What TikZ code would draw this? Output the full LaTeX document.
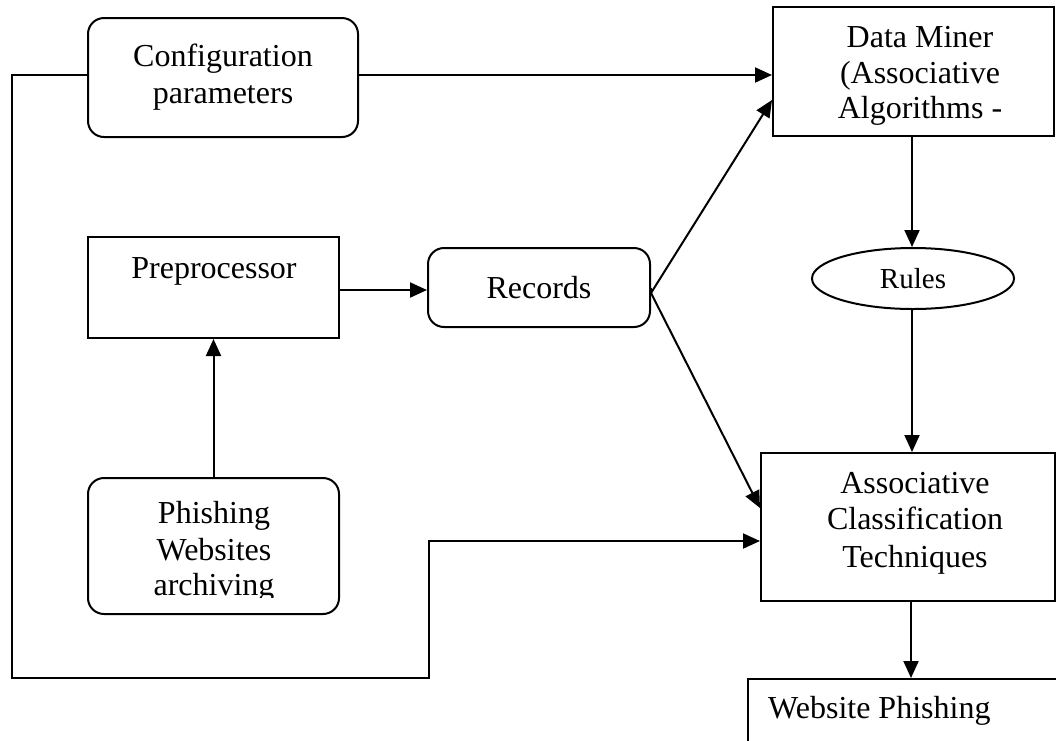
\documentclass[tikz,border=0pt]{standalone}
\usepackage{fontspec}
\setmainfont{Liberation Serif}
\usetikzlibrary{arrows.meta,shapes.geometric}
\tikzset{
  box/.style={draw,line width=2pt,inner sep=0pt,minimum width=#1},
  rbox/.style={draw,line width=2pt,inner sep=0pt,rounded corners=16pt},
  conn/.style={line width=2pt},
  arr/.style={line width=2pt,-{Triangle[length=17pt,width=15pt]}},
  txt/.style={align=center,font=\fontsize{32}{37}\selectfont,inner sep=0pt},
}
\begin{document}
\begin{tikzpicture}[x=1pt,y=-1pt]
\clip (0,0) rectangle (1056,740);
\fill[white] (0,0) rectangle (1056,740);
% boxes
\node[rbox,minimum width=270pt,minimum height=119pt,txt] (cfg) at (223,77.5) {Configuration\\parameters};
\node[box=281pt,minimum height=129pt] (dm) at (913.5,71.5) {};
\node[txt,anchor=base] at (920,47) {Data Miner};
\node[txt,anchor=base] at (920,83) {(Associative};
\node[txt,anchor=base] at (920,118) {Algorithms -};
\node[box=251pt,minimum height=101pt] (pre) at (213.5,287.5) {};
\node[txt,anchor=base] at (214,278) {Preprocessor};
\node[rbox,minimum width=222pt,minimum height=79pt,txt] (rec) at (539,287.5) {Records};
\node[draw,ellipse,line width=2pt,minimum width=202pt,minimum height=61pt,inner sep=0pt,font=\fontsize{29}{34}\selectfont] (rules) at (913,278.5) {Rules};
\node[rbox,minimum width=251pt,minimum height=136pt] (phi) at (213.5,546) {};
\begin{scope}
\clip (90,480) rectangle (337,597);
\node[txt,anchor=base] at (214,523) {Phishing};
\node[txt,anchor=base] at (214,560) {Websites};
\node[txt,anchor=base] at (214,595) {archiving};
\end{scope}
\node[box=294pt,minimum height=148pt] (ac) at (908,527) {};
\node[txt,anchor=base] at (915,493) {Associative};
\node[txt,anchor=base] at (915,529) {Classification};
\node[txt,anchor=base] at (915,567) {Techniques};
\node[box=320pt,minimum height=100pt,anchor=north west] (web) at (747,678) {};
\node[txt,anchor=base west] at (768,718) {Website Phishing};
% coordinates
\coordinate (c1) at (12,75);
\coordinate (c2) at (12,678);
\coordinate (c3) at (429,678);
\coordinate (c4) at (429,541);
\coordinate (rj) at (651,293);
% connectors
\draw[arr] (cfg.east |- 0,75) -- (dm.west |- 0,75);
\draw[arr] (cfg.west |- c1) -- (c1) -- (c2) -- (c3) -- (c4) -- (ac.west |- c4);
\draw[arr] (pre.east |- 0,290) -- (rec.west |- 0,290);
\draw[conn] (rec.east) -- (rj);
\draw[arr] (rj) -- (dm.west |- 0,100);
\draw[arr] (rj) -- (ac.west |- 0,508);
\draw[arr] (dm.south -| 912,0) -- (rules.north -| 912,0);
\draw[arr] (rules.south -| 912,0) -- (ac.north -| 912,0);
\draw[arr] (ac.south -| 911,0) -- (web.north -| 911,0);
\draw[arr] (phi.north) -- (pre.south);
\end{tikzpicture}
\end{document}
